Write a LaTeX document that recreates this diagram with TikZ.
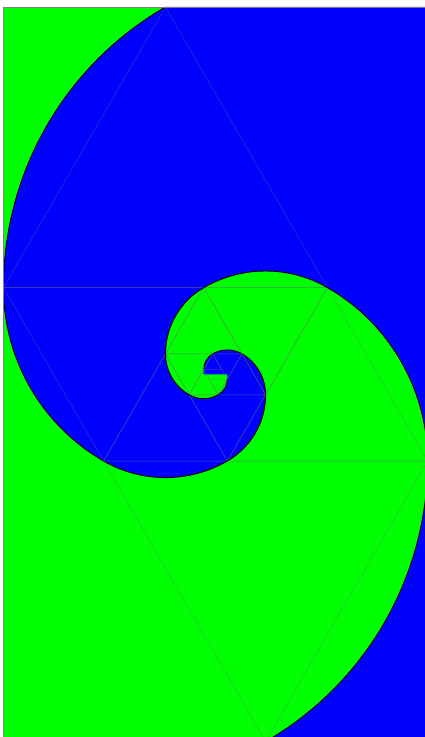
\documentclass[tikz,border=0pt]{standalone}
\definecolor{spgreen}{RGB}{0,255,0}
\definecolor{spblue}{RGB}{0,0,255}
\definecolor{trigray}{RGB}{110,110,110}
\begin{document}
\begin{tikzpicture}[x=1pt,y=1pt,
  tri/.style={draw=trigray, line width=0.5pt, draw opacity=0.45},
  curve/.style={draw=black, line width=0.9pt},
  frame/.style={draw=gray, line width=0.8pt}]
\useasboundingbox (-215.55,-362.7) rectangle (209.45,374.3);
\fill[white] (-215.55,-362.7) rectangle (209.45,374.3);
\clip (-215.55,-362.7) rectangle (209.45,374.3);
% rectangle corners and key points
\coordinate (BL) at (-212.06,-367.30);
\coordinate (TR) at (212.06,367.30);
\coordinate (BR) at (212.06,-367.30);
\coordinate (C) at (-50.061,367.30);
\coordinate (M1) at (-11.818,0);
\coordinate (M2) at (11.818,0);
\coordinate (Zg) at (11.818,-4.832);
% background
\fill[spgreen] (BL) rectangle (TR);
% blue region
\fill[spblue] (C)
  arc[start angle=120,end angle=180,radius=324]
  arc[start angle=180,end angle=240,radius=200.243]
  arc[start angle=240,end angle=300,radius=123.757]
  arc[start angle=300,end angle=360,radius=76.486]
  arc[start angle=0,end angle=60,radius=47.271]
  arc[start angle=60,end angle=120,radius=29.215]
  arc[start angle=120,end angle=180,radius=18.056]
  -- (M1) -- (M2) -- (Zg)
  arc[start angle=360,end angle=300,radius=18.056]
  arc[start angle=300,end angle=240,radius=29.215]
  arc[start angle=240,end angle=180,radius=47.271]
  arc[start angle=180,end angle=120,radius=76.486]
  arc[start angle=120,end angle=60,radius=123.757]
  arc[start angle=60,end angle=0,radius=200.243]
  arc[start angle=360,end angle=300,radius=324]
  -- (BR) -- (TR) -- cycle;
% triangles of both spirals
\foreach \rot/\nm in {0/B,180/G}{
  \begin{scope}[rotate=\rot]
    \foreach \i/\px/\py/\t/\r in {1/111.939/86.708/120/324,
                                  2/-11.818/86.708/180/200.243,
                                  3/-50.061/20.469/240/123.757,
                                  4/-26.425/-20.470/300/76.486,
                                  5/2.790/-20.470/0/47.271,
                                  6/11.818/-4.833/60/29.215,
                                  7/6.238/4.832/120/18.056}{
      \coordinate (\nm\i) at (\px,\py);
      \draw[tri] (\nm\i) -- ++(\t:\r) -- ++(\t+120:\r) -- cycle;
    }
    \coordinate (\nm C) at (-50.061,367.30);
    \draw[curve] (\nm C)
      arc[start angle=120,end angle=180,radius=324]
      arc[start angle=180,end angle=240,radius=200.243]
      arc[start angle=240,end angle=300,radius=123.757]
      arc[start angle=300,end angle=360,radius=76.486]
      arc[start angle=0,end angle=60,radius=47.271]
      arc[start angle=60,end angle=120,radius=29.215]
      arc[start angle=120,end angle=180,radius=18.056];
  \end{scope}
}
% frame
\draw[frame] (BL) rectangle (TR);
\end{tikzpicture}
\end{document}
